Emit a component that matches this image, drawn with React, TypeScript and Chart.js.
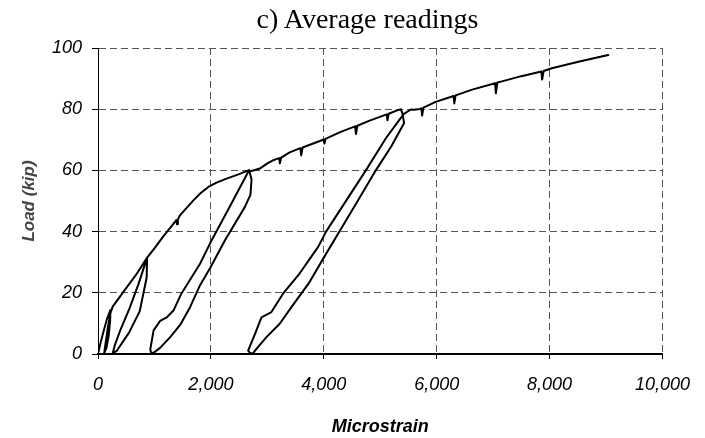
import React, { useEffect, useRef } from "react";
import { Chart, registerables } from "chart.js";

Chart.register(...registerables);

// ---- Data ----
const chartTitle = "c) Average readings";
const xAxisTitle = "Microstrain";
const yAxisTitle = "Load (kip)";

const xTickValues = [0, 2000, 4000, 6000, 8000, 10000];
const yTickValues = [0, 20, 40, 60, 80, 100];

// Early cycles up to ~15 and ~31 kip
const earlyStrain = [0, 50, 103, 160, 220, 215, 190, 150, 110, 130, 170, 215, 260, 450, 690, 870, 862, 740, 550, 330, 260, 300, 400, 560, 720, 870];
const earlyLoad = [0, 4, 7.7, 11.5, 14.3, 11, 6, 2, 0.3, 3, 8, 13, 15.5, 20.3, 26.3, 31.5, 25, 14, 7, 1, 0.2, 3, 8, 15, 23, 31.5];

// Envelope up to 60 kip
const envelope60Strain = [1000, 1150, 1300, 1390, 1400, 1415, 1455, 1690, 1820, 1954, 2100, 2278, 2500, 2677];
const envelope60Load = [34.5, 38.3, 41.7, 43.8, 42.4, 44, 45.4, 50.2, 52.6, 54.6, 56.0, 57.3, 58.8, 60.1];

// Unload / reload at 60 kip
const unload60Strain = [2720, 2700, 2600, 2250, 1984, 1808, 1631, 1455, 1279, 1100, 1000, 945];
const unload60Load = [57, 52, 48, 37.2, 28, 22.5, 15.3, 9.5, 5.5, 2, 0.6, 0.2];
const reload60Strain = [926, 985, 1100, 1220, 1337, 1470, 1808, 2014, 2300, 2660, 2866];
const reload60Load = [1.5, 7.7, 10.8, 12, 14.2, 19.5, 29.5, 37.2, 47, 59.5, 60.6];

// Envelope up to 80 kip
const envelope80Strain = [3000, 3101, 3210, 3222, 3245, 3395, 3585, 3600, 3625, 4000, 4012, 4030, 4300, 4555, 4570, 4595, 4800, 5115, 5128, 5150, 5300, 5365];
const envelope80Load = [62.3, 63.3, 64, 62.3, 64.2, 65.9, 67.3, 64.9, 67.5, 70.1, 68.8, 70.3, 72.6, 74.4, 71.9, 74.6, 76.2, 78.3, 76.4, 78.5, 79.6, 80];

// Unload / reload at 80 kip
const unload80Strain = [5393, 5423, 5200, 4924, 4600, 4277, 4000, 3748, 3395, 3219, 2984, 2800, 2748, 2700];
const unload80Load = [78.6, 75.5, 68, 60.1, 50, 40, 31.5, 23.5, 14.5, 9.9, 5.5, 1.5, 0.3, 0.2];
const reload80Strain = [2660, 2780, 2896, 3072, 3277, 3571, 3900, 4040, 4748, 5100, 5335, 5420, 5541];
const reload80Load = [1.1, 6.5, 12, 13.7, 19.7, 26.3, 35, 40, 60.1, 70.5, 76.4, 78.5, 79.9];

// Envelope to the end of the test
const finalStrain = [5600, 5700, 5730, 5742, 5765, 5982, 6300, 6312, 6335, 6628, 7035, 7048, 7075, 7157, 7500, 7855, 7868, 7895, 8039, 8510, 9039];
const finalLoad = [79.8, 80.1, 80.3, 77.9, 80.5, 82.4, 84.3, 81.9, 84.5, 86.4, 88.5, 85.2, 88.7, 89.1, 90.8, 92.3, 89.7, 92.5, 93.4, 95.5, 97.7];

const sans = "'Liberation Sans', Arial, Helvetica, sans-serif";

export default function App() {
  const ref = useRef<HTMLCanvasElement>(null);

  useEffect(() => {
    const strain = [
      ...earlyStrain, ...envelope60Strain, ...unload60Strain, ...reload60Strain,
      ...envelope80Strain, ...unload80Strain, ...reload80Strain, ...finalStrain,
    ];
    const load = [
      ...earlyLoad, ...envelope60Load, ...unload60Load, ...reload60Load,
      ...envelope80Load, ...unload80Load, ...reload80Load, ...finalLoad,
    ];
    const points = strain.map((x, i) => ({ x, y: load[i] }));

    const chart = new Chart(ref.current as HTMLCanvasElement, {
      type: "scatter",
      data: {
        datasets: [
          {
            data: points,
            showLine: true,
            borderColor: "#000",
            backgroundColor: "#000",
            borderWidth: 2,
            borderJoinStyle: "round",
            borderCapStyle: "round",
            pointRadius: 0,
            pointHoverRadius: 0,
            tension: 0,
            fill: false,
          },
        ],
      },
      options: {
        responsive: false,
        animation: false,
        events: [],
        layout: { padding: { left: 0, right: 41, top: 48, bottom: 0 } },
        plugins: {
          legend: { display: false },
          tooltip: { enabled: false },
          title: { display: false },
        },
        scales: {
          x: {
            type: "linear",
            min: 0,
            max: 10000,
            afterFit: (s: any) => {
              s.height = 84;
            },
            afterBuildTicks: (s: any) => {
              s.ticks = xTickValues.map((v) => ({ value: v }));
            },
            ticks: {
              padding: 15,
              color: "#000",
              maxRotation: 0,
              font: { family: sans, size: 18, style: "italic" },
              callback: (v: any) => Number(v).toLocaleString("en-US"),
            },
            grid: {
              color: "#555",
              lineWidth: 1,
              tickLength: 5,
              tickColor: "#000",
              tickWidth: 1,
            },
            border: { display: true, color: "#000", width: 2, dash: [7, 4] },
            title: {
              display: true,
              text: xAxisTitle,
              color: "#000",
              font: { family: sans, size: 18, style: "italic", weight: "bold" },
              padding: { top: 0, bottom: 0 },
            },
          },
          y: {
            type: "linear",
            min: 0,
            max: 100,
            afterFit: (s: any) => {
              s.width = 98;
            },
            afterBuildTicks: (s: any) => {
              s.ticks = yTickValues.map((v) => ({ value: v }));
            },
            ticks: {
              padding: 10,
              color: "#000",
              font: { family: sans, size: 18, style: "italic" },
            },
            grid: {
              color: "#555",
              lineWidth: 1,
              tickLength: 6,
              tickColor: "#000",
              tickWidth: 1,
            },
            border: { display: true, color: "#000", width: 1, dash: [7, 4] },
            title: {
              display: true,
              text: yAxisTitle,
              color: "#444",
              font: { family: sans, size: 17, style: "italic", weight: "bold" },
              padding: { top: 19, bottom: 0 },
            },
          },
        },
      },
    });
    return () => chart.destroy();
  }, []);

  return (
    <div style={{ position: "absolute", left: 0, top: 0, width: 705, height: 438, background: "#fff" }}>
      <canvas
        ref={ref}
        width={705}
        height={438}
        style={{ position: "absolute", left: 0, top: 0, width: 705, height: 438, display: "block" }}
      />
      <div
        style={{
          position: "absolute",
          left: 0,
          top: 5,
          width: 705,
          boxSizing: "border-box",
          paddingLeft: 30,
          textAlign: "center",
          fontFamily: "'Liberation Serif', 'Times New Roman', serif",
          fontSize: 28,
          lineHeight: "28px",
          color: "#000",
        }}
      >
        {chartTitle}
      </div>
    </div>
  );
}
